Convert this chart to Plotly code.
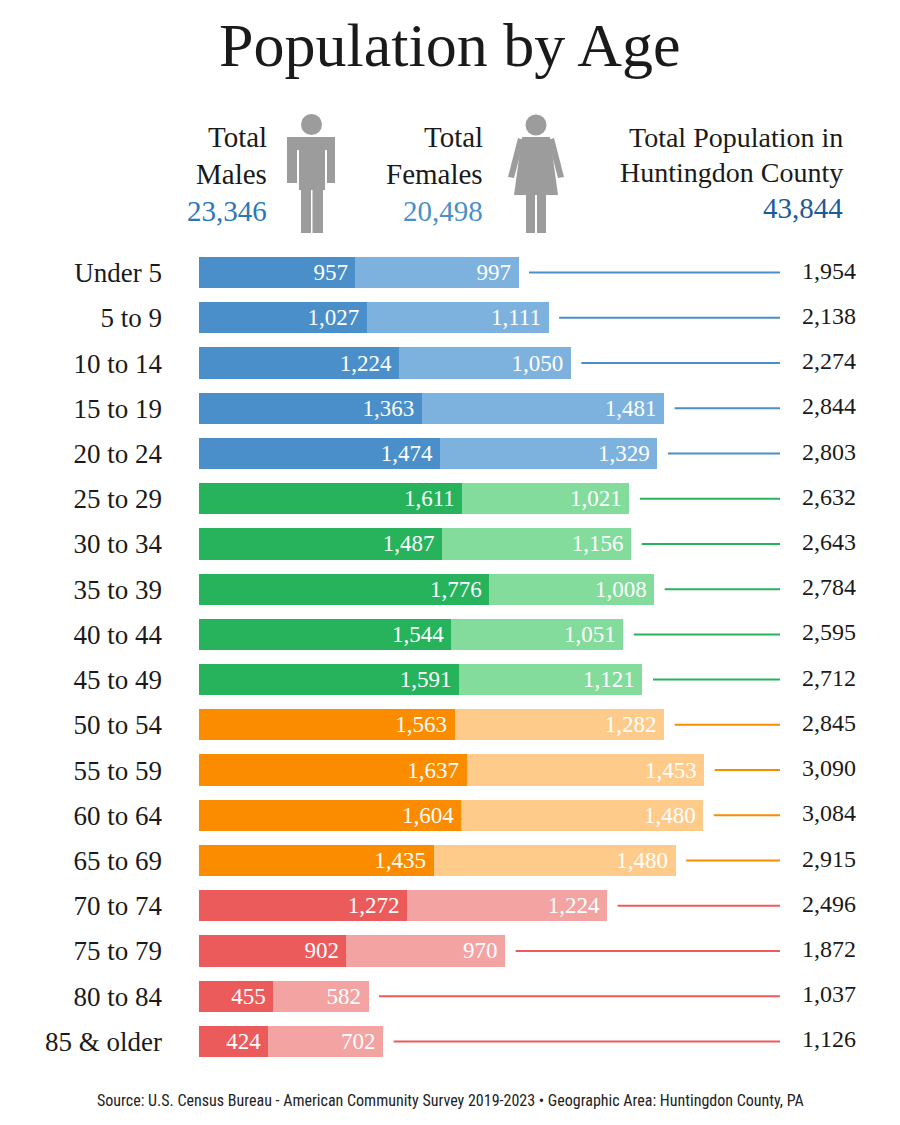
import plotly.graph_objects as go

# === Data ===
age_groups = ["Under 5", "5 to 9", "10 to 14", "15 to 19", "20 to 24",
              "25 to 29", "30 to 34", "35 to 39", "40 to 44", "45 to 49",
              "50 to 54", "55 to 59", "60 to 64", "65 to 69",
              "70 to 74", "75 to 79", "80 to 84", "85 & older"]
males = [957, 1027, 1224, 1363, 1474,
         1611, 1487, 1776, 1544, 1591,
         1563, 1637, 1604, 1435,
         1272, 902, 455, 424]
females = [997, 1111, 1050, 1481, 1329,
           1021, 1156, 1008, 1051, 1121,
           1282, 1453, 1480, 1480,
           1224, 970, 582, 702]
group_of_row = ["blue"] * 5 + ["green"] * 5 + ["orange"] * 4 + ["red"] * 4

totals = [m + f for m, f in zip(males, females)]
total_males = sum(males)
total_females = sum(females)

# === Styling ===
W, H = 900, 1125
OFF = 8               # page body margin, the figure is drawn 8px in from the corner
SERIF = "Liberation Serif"
male_col = {"blue": "#4a8fca", "green": "#27b35c", "orange": "#fb8c00", "red": "#ec5b5b"}
female_col = {"blue": "#7db2de", "green": "#83dc9b", "orange": "#fecb8b", "red": "#f4a3a3"}
GRAY = "#9c9c9c"

X0_PX, PLOT_TOP, PLOT_BOT = 199 - OFF, 250 - OFF, 1064 - OFF
X_MAX = 4336          # data units across the plot width
PX = (W - X0_PX) / X_MAX


def px(x):
    return (x - OFF) / W


def py(y):
    return 1 - (y - OFF) / H


def dx(x):
    # screen x (px) -> data units
    return (x - OFF - X0_PX) / PX


fig = go.Figure()

# stacked bars
fig.add_trace(go.Bar(
    y=age_groups, x=males, orientation="h",
    marker=dict(color=[male_col[g] for g in group_of_row], line_width=0),
    text=[f"{v:,}\u2009" for v in males], textposition="inside", insidetextanchor="end",
    textfont=dict(family=SERIF, size=23, color="white"),
    constraintext="none", width=0.69, hoverinfo="skip", name="Males",
))
fig.add_trace(go.Bar(
    y=age_groups, x=females, orientation="h",
    marker=dict(color=[female_col[g] for g in group_of_row], line_width=0),
    text=[f"{v:,}\u2009" for v in females], textposition="inside", insidetextanchor="end",
    textfont=dict(family=SERIF, size=23, color="white"),
    constraintext="none", width=0.69, hoverinfo="skip", name="Females",
))

# leader lines from bar end to the total
line_end = dx(780)
gap = 10.5 / PX
for g in ["blue", "green", "orange", "red"]:
    xs, ys = [], []
    for cat, tot, grp in zip(age_groups, totals, group_of_row):
        if grp == g:
            xs += [tot + gap, line_end, None]
            ys += [cat, cat, None]
    fig.add_trace(go.Scatter(x=xs, y=ys, mode="lines",
                             line=dict(color=male_col[g], width=2),
                             hoverinfo="skip"))

# totals on the right
fig.add_trace(go.Scatter(
    x=[dx(856)] * len(totals), y=age_groups, mode="text",
    text=[f"{t:,}" for t in totals], textposition="middle left",
    textfont=dict(family=SERIF, size=24, color="#1a1a1a"), hoverinfo="skip",
))

# === Header text ===
ann = []
ann.append(dict(text="Population by Age", x=px(450), y=py(45), xanchor="center", yanchor="middle",
                font=dict(family=SERIF, size=62, color="#1a1a1a")))


def hdr(text, x, y, size=29, color="#1a1a1a"):
    ann.append(dict(text=text, x=px(x), y=py(y), xanchor="right", yanchor="middle",
                    font=dict(family=SERIF, size=size, color=color)))


hdr("Total", 269, 137)
hdr("Males", 269, 174)
hdr(f"{total_males:,}", 269, 211, color="#2a78b8")
hdr("Total", 485, 137)
hdr("Females", 485, 174)
hdr(f"{total_females:,}", 485, 211, color="#4a90c8")
hdr("Total Population in", 845, 137, size=28)
hdr("Huntingdon County", 845, 172, size=28)
hdr(f"{total_males + total_females:,}", 845, 208, color="#1c5a9a")

ann.append(dict(
    text="Source: U.S. Census Bureau - American Community Survey 2019-2023 \u2022 Geographic Area: Huntingdon County, PA",
    x=px(450), y=py(1100), xanchor="center", yanchor="middle",
    font=dict(family="Liberation Sans Narrow, Roboto Condensed, Roboto", size=16, color="#222222")))
for a in ann:
    a.update(xref="paper", yref="paper", showarrow=False)

# === Icons (decorative) ===
shapes = []


def rect(x0, y0, x1, y1):
    shapes.append(dict(type="rect", xref="paper", yref="paper", x0=px(x0), x1=px(x1),
                       y0=py(y1), y1=py(y0), fillcolor=GRAY, line_width=0, layer="above"))


def circle(cx, cy, r):
    shapes.append(dict(type="circle", xref="paper", yref="paper", x0=px(cx - r), x1=px(cx + r),
                       y0=py(cy + r), y1=py(cy - r), fillcolor=GRAY, line_width=0))


def poly(points):
    d = "M " + " L ".join(f"{px(x):.5f},{py(y):.5f}" for x, y in points) + " Z"
    shapes.append(dict(type="path", xref="paper", yref="paper", path=d,
                       fillcolor=GRAY, line_width=0))


# male
circle(311.5, 124.5, 10.5)
rect(287, 137, 335, 150)
rect(287, 140, 297, 183)
rect(299, 140, 325, 190)
rect(327, 140, 335, 183)
rect(301, 185, 311, 233)
rect(312.5, 185, 323, 233)
# female
circle(536, 125, 10.5)
poly([(522, 137), (550, 137), (558, 195), (514, 195)])
poly([(518, 138), (524, 140), (514, 178), (508, 177)])
poly([(554, 138), (548, 140), (558, 178), (564, 177)])
rect(526, 193, 535, 233)
rect(537, 193, 546, 233)

fig.update_layout(
    width=W, height=H, barmode="stack", showlegend=False,
    plot_bgcolor="white", paper_bgcolor="white",
    margin=dict(l=0, r=0, t=0, b=0),
    xaxis=dict(domain=[X0_PX / W, 1], range=[0, X_MAX], visible=False, fixedrange=True),
    yaxis=dict(domain=[1 - PLOT_BOT / H, 1 - PLOT_TOP / H],
               range=[len(age_groups) - 0.5, -0.5], autorange=False,
               showgrid=False, zeroline=False, showline=False, ticks="",
               ticklabelstandoff=36,
               tickfont=dict(family=SERIF, size=27, color="#1a1a1a")),
    annotations=ann, shapes=shapes,
)

fig.write_html("out.html")
